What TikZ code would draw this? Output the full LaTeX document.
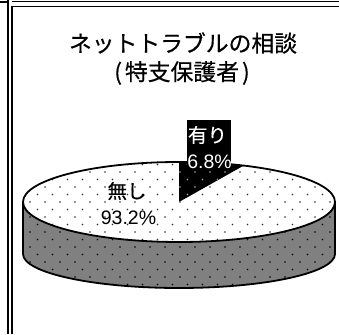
\documentclass[tikz,border=0pt]{standalone}
\usepackage{fontspec}
\setmainfont{Noto Sans CJK JP}[FakeBold=0.45]
\newfontfamily\latinfont{Liberation Sans}
\definecolor{sidegray}{HTML}{808080}
\definecolor{dotdark}{HTML}{303030}
\definecolor{dotlight}{HTML}{A8A8A8}
\tikzset{
  frameline/.style={line width=1.3pt,black},
  outline/.style={line width=1.8pt,black,line join=round},
  titletext/.style={font=\fontsize{22.8}{27}\selectfont,inner sep=0pt},
  labeltext/.style={font=\fontsize{19.5}{22}\selectfont,inner sep=0pt},
  numtext/.style={font=\fontsize{19.5}{22}\latinfont\selectfont,inner sep=0pt},
}
\newcommand{\dotgrid}[1]{%
  \foreach \j in {0,...,20}{%
    \foreach \i in {0,...,22}{%
      \pgfmathsetmacro{\dx}{15+15*\i+7.5*mod(\j,2)}%
      \pgfmathsetmacro{\dy}{177-7.5*\j}%
      \fill[#1] (\dx,\dy) circle (0.9);
    }%
  }%
}
\begin{document}
\begin{tikzpicture}[x=1pt,y=1pt]
\useasboundingbox (0,0) rectangle (339,334);
\fill[white] (0,0) rectangle (339,334);
% frame lines
\draw[frameline] (0,332) -- (8,332);
\draw[line width=1pt] (12,332.5) -- (339,332.5);
\draw[line width=1.5pt] (12,327.5) -- (339,327.5);
\draw[frameline] (8,0) -- (8,334);
\draw[frameline] (12,0) -- (12,327.5);
% side of the pie
\fill[sidegray] (23,132) arc[start angle=180,end angle=360,x radius=156,y radius=40]
  -- (335,80) arc[start angle=0,end angle=-180,x radius=156,y radius=34] -- cycle;
\begin{scope}
\clip (23,132) arc[start angle=180,end angle=360,x radius=156,y radius=40]
  -- (335,80) arc[start angle=0,end angle=-180,x radius=156,y radius=34] -- cycle;
\dotgrid{black}
\end{scope}
% top face
\fill[white] (179,132) ellipse[x radius=156,y radius=40];
\begin{scope}
\clip (179,132) ellipse[x radius=156,y radius=40];
\dotgrid{dotdark}
\end{scope}
% slice
\fill[black] (179,132) -- (179,172) arc[start angle=90,end angle=65.5,x radius=156,y radius=40] -- cycle;
\begin{scope}
\clip (179,132) -- (179,172) arc[start angle=90,end angle=65.5,x radius=156,y radius=40] -- cycle;
\dotgrid{dotlight}
\end{scope}
% outlines
\draw[outline] (23,132) -- (23,80) arc[start angle=180,end angle=360,x radius=156,y radius=34] -- (335,132);
\draw[outline] (179,132) ellipse[x radius=156,y radius=40];
% label box
\node (yesbox) [fill=black,minimum width=44pt,minimum height=48pt,inner sep=0pt] at (209,189.5) {};
\node (yes1) [labeltext,text=white] at (207.5,199) {有り};
\node (yes2) [numtext,text=white] at (209.5,172) {6.8\%};
\node (no1) [labeltext] at (127,143) {無し};
\node (no2) [numtext] at (128.5,116) {93.2\%};
% title
\node (title1) [titletext] at (183,291) {ネットトラブルの相談};
\node (title2) [titletext] at (182,261) {(\hspace{3pt}特支保護者\hspace{3pt})};
\end{tikzpicture}
\end{document}
